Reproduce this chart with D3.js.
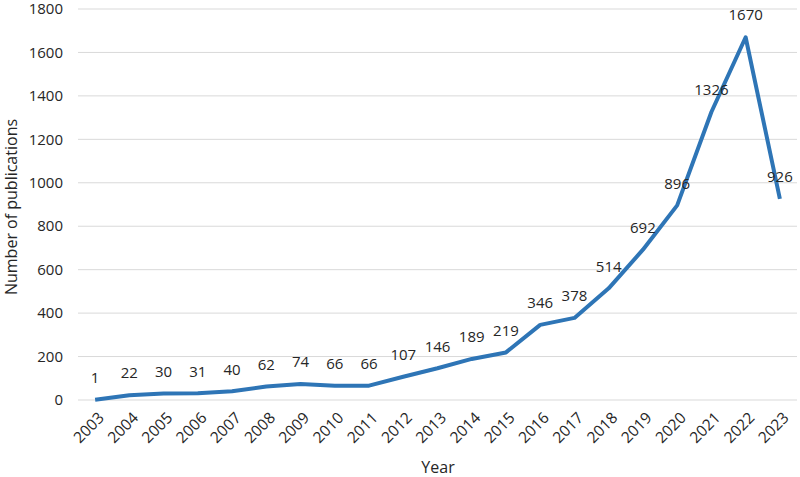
<!DOCTYPE html>
<html>
<head>
<meta charset="utf-8">
<script src="https://cdn.jsdelivr.net/npm/d3@7/dist/d3.min.js"></script>
<style>
	body { margin: 0; background: #fff; }
	text { font-family: "Open Sans", "Liberation Sans", sans-serif; fill: #262626; }
</style>
</head>
<body>
<div id="chart"></div>
<script>
var years = ["2003", "2004", "2005", "2006", "2007", "2008", "2009", "2010", "2011", "2012",
	"2013", "2014", "2015", "2016", "2017", "2018", "2019", "2020", "2021", "2022", "2023"];
var publications = [1, 22, 30, 31, 40, 62, 74, 66, 66, 107,
	146, 189, 219, 346, 378, 514, 692, 896, 1326, 1670, 926];
var yTicks = [0, 200, 400, 600, 800, 1000, 1200, 1400, 1600, 1800];

var width = 800, height = 477;
var margin = { top: 9, right: 3, bottom: 77, left: 78 };

var svg = d3.select("#chart").append("svg")
	.attr("width", width)
	.attr("height", height);

var x = d3.scalePoint()
	.domain(years)
	.range([margin.left, width - margin.right])
	.padding(0.5);

var y = d3.scaleLinear()
	.domain([0, 1800])
	.range([height - margin.bottom, margin.top]);

//gridlines
svg.append("g")
	.selectAll("line")
	.data(yTicks)
	.enter().append("line")
	.attr("x1", margin.left)
	.attr("x2", width - margin.right)
	.attr("y1", function(d) { return y(d); })
	.attr("y2", function(d) { return y(d); })
	.attr("stroke", "#d9d9d9")
	.attr("stroke-width", 1);

//y tick labels
svg.append("g")
	.selectAll("text")
	.data(yTicks)
	.enter().append("text")
	.attr("x", margin.left - 15)
	.attr("y", function(d) { return y(d); })
	.attr("dy", "0.35em")
	.attr("text-anchor", "end")
	.style("font-size", "15px")
	.text(function(d) { return d; });

//x tick labels
svg.append("g")
	.selectAll("text")
	.data(years)
	.enter().append("text")
	.attr("transform", function(d) {
		return "translate(" + (x(d) + 6) + "," + (y(0) + 15) + ") rotate(-45)";
	})
	.attr("text-anchor", "end")
	.attr("dy", "0.35em")
	.style("font-size", "15.5px")
	.text(function(d) { return d; });

//line
var line = d3.line()
	.x(function(d, i) { return x(years[i]); })
	.y(function(d) { return y(d); });

svg.append("path")
	.datum(publications)
	.attr("d", line)
	.attr("fill", "none")
	.attr("stroke", "#2e75b6")
	.attr("stroke-width", 4)
	.attr("stroke-linejoin", "round");

//data labels
svg.append("g")
	.selectAll("text")
	.data(publications)
	.enter().append("text")
	.attr("x", function(d, i) { return x(years[i]); })
	.attr("y", function(d) { return y(d) - 22; })
	.attr("dy", "0.35em")
	.attr("text-anchor", "middle")
	.style("font-size", "15px")
	.text(function(d) { return d; });

//axis titles
svg.append("text")
	.attr("x", 438)
	.attr("y", 467)
	.attr("dy", "0.35em")
	.attr("text-anchor", "middle")
	.style("font-size", "16px")
	.text("Year");

svg.append("text")
	.attr("transform", "translate(11,207) rotate(-90)")
	.attr("dy", "0.35em")
	.attr("text-anchor", "middle")
	.style("font-size", "16px")
	.text("Number of publications");
</script>
</body>
</html>
